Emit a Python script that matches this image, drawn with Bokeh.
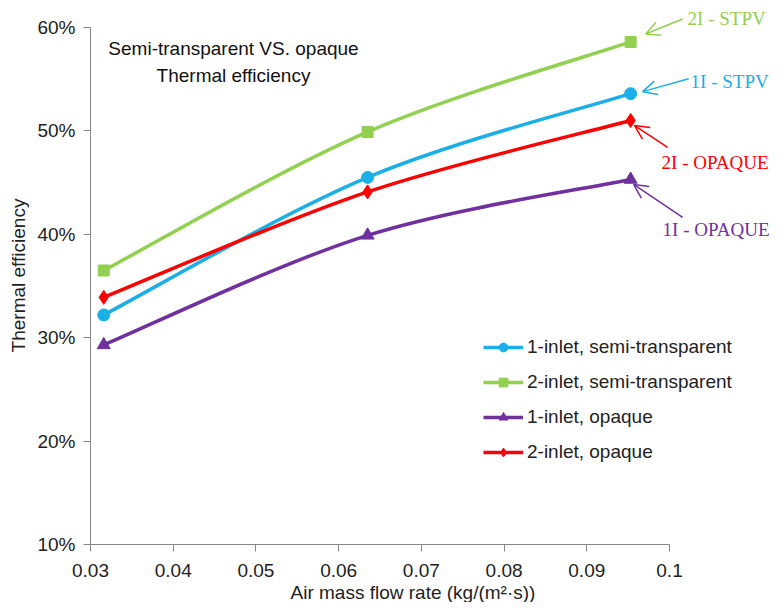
from bokeh.plotting import figure
from bokeh.models import (Range1d, FixedTicker, NumeralTickFormatter, Legend, LegendItem,
                          Label, Arrow, OpenHead, LinearAxis, Title)
from bokeh.embed import file_html
from bokeh.resources import INLINE

# ---------------- data ----------------
flow_rate = [0.0316, 0.0635, 0.0953]
eff_1inlet_semi = [0.322, 0.455, 0.536]
eff_2inlet_semi = [0.365, 0.499, 0.586]
eff_1inlet_opaque = [0.293, 0.399, 0.453]
eff_2inlet_opaque = [0.339, 0.441, 0.510]

series_names = ["1-inlet, semi-transparent", "2-inlet, semi-transparent",
                "1-inlet, opaque", "2-inlet, opaque"]
callout_texts = ["1I - STPV", "2I - STPV", "1I - OPAQUE", "2I - OPAQUE"]
x_ticks = [0.03, 0.04, 0.05, 0.06, 0.07, 0.08, 0.09, 0.1]
y_ticks = [0.1, 0.2, 0.3, 0.4, 0.5, 0.6]

# ---------------- layout ----------------
W, H = 775, 602
BL, BR, BT, BB = 90, 0, 6, 57
X0, X1 = 0.03, 0.1          # axis extent
Y0, Y1 = 0.1, 0.6
PXX = 579 / (X1 - X0)       # px per x unit
PXY = 518 / (Y1 - Y0)       # px per y unit
frame_w = W - BL - BR
frame_h = H - BT - BB
XR_END = X0 + frame_w / PXX
YR_END = Y0 + frame_h / PXY

FONT = "Liberation Sans"
SERIF = "Liberation Serif"
AXIS_COL = "#878787"
TXT = "#222222"

p = figure(width=W, height=H, output_backend="svg", toolbar_location=None,
           x_range=Range1d(X0, XR_END), y_range=Range1d(Y0, YR_END),
           min_border_left=BL, min_border_right=BR, min_border_top=BT, min_border_bottom=BB)
p.outline_line_color = None
p.grid.visible = False
p.background_fill_color = "white"
p.border_fill_color = "white"

for ax in (p.xaxis[0], p.yaxis[0]):
    ax.axis_line_color = AXIS_COL
    ax.major_tick_line_color = AXIS_COL
    ax.minor_tick_line_color = None
    ax.major_tick_in = 0
    ax.major_tick_out = 7
    ax.major_label_text_font = FONT
    ax.major_label_text_font_size = "19px"
    ax.major_label_text_color = TXT

p.xaxis.ticker = FixedTicker(ticks=x_ticks)
p.xaxis.formatter = NumeralTickFormatter(format="0.0[0]")
p.xaxis.bounds = (X0, X1)
p.yaxis.ticker = FixedTicker(ticks=y_ticks)
p.yaxis.formatter = NumeralTickFormatter(format="0%")
p.yaxis.bounds = (Y0, Y1)
p.xaxis.major_label_standoff = 12
p.yaxis.major_label_standoff = 8

# y-axis title (separate label-only axis)
p.add_layout(LinearAxis(ticker=FixedTicker(ticks=[]), axis_label="Thermal efficiency",
                        axis_line_color=None, major_tick_line_color=None,
                        minor_tick_line_color=None, major_tick_out=0, major_tick_in=0,
                        major_label_text_font_size="0px", axis_label_standoff=6,
                        axis_label_text_font=FONT, axis_label_text_font_size="19px",
                        axis_label_text_font_style="normal", axis_label_text_color=TXT),
             "left")

# x-axis title, placed left of the frame centre as in the reference
p.add_layout(Title(text="Air mass flow rate (kg/(m\u00b2\u00b7s))", align="left", offset=200,
                   standoff=0, text_font=FONT, text_font_size="19px",
                   text_font_style="normal", text_color=TXT), "below")


def smooth_segments(xs, ys):
    n = len(xs)
    out = dict(x0=[], y0=[], x1=[], y1=[], cx0=[], cy0=[], cx1=[], cy1=[])
    for i in range(n - 1):
        ip = i - 1 if i > 0 else i
        inx = i + 2 if i + 2 < n else i + 1
        out["x0"].append(xs[i]); out["y0"].append(ys[i])
        out["x1"].append(xs[i + 1]); out["y1"].append(ys[i + 1])
        out["cx0"].append(xs[i] + (xs[i + 1] - xs[ip]) / 6)
        out["cy0"].append(ys[i] + (ys[i + 1] - ys[ip]) / 6)
        out["cx1"].append(xs[i + 1] - (xs[inx] - xs[i]) / 6)
        out["cy1"].append(ys[i + 1] - (ys[inx] - ys[i]) / 6)
    return out


styles = [
    (eff_1inlet_semi, "#1AAFE6", "circle", 12),
    (eff_2inlet_semi, "#92D050", "square", 11),
    (eff_1inlet_opaque, "#7030A0", "triangle", 13),
    (eff_2inlet_opaque, "#FF0000", "diamond", 14),
]

items = []
for (ys, col, mk, sz), name in zip(styles, series_names):
    seg = smooth_segments(flow_rate, ys)
    b = p.bezier(**seg, line_color=col, line_width=3.5)
    s = p.scatter(flow_rate, ys, marker=mk, size=sz, fill_color=col, line_color=col)
    items.append(LegendItem(label=name, renderers=[b, s]))

legend = Legend(items=items, location=(393, 81), border_line_color=None,
                background_fill_alpha=0, glyph_width=40, glyph_height=22,
                label_height=22, spacing=13, label_standoff=4, padding=0, margin=0,
                label_text_font=FONT, label_text_font_size="19px",
                label_text_color=TXT)
p.add_layout(legend, "center")

# ---------------- callouts ----------------
# (series index, tip offset px, start offset px, text offset px) relative to the last point
callouts = [
    (1, (15, -8), (52, -23), (57, -23)),
    (0, (12, -2), (58, -15), (60, -12)),
    (3, (4, 5), (37, 27), (31, 42)),
    (2, (3, 5), (52, 38), (32, 50)),
]
for idx, tip, start, txt in callouts:
    ys, col, _, _ = styles[idx]
    lx, ly = flow_rate[-1], ys[-1]
    arr = Arrow(x_start=lx + start[0] / PXX, y_start=ly - start[1] / PXY,
                x_end=lx + tip[0] / PXX, y_end=ly - tip[1] / PXY,
                line_color=col, line_width=1.5,
                end=OpenHead(size=14, line_color=col, line_width=1.5))
    p.add_layout(arr)
    p.add_layout(Label(x=lx + txt[0] / PXX, y=ly - txt[1] / PXY,
                       text=callout_texts[idx], text_color=col, text_font=SERIF,
                       text_font_size="19px", text_baseline="middle", text_align="left"))

# ---------------- chart title (in-plot) ----------------
title_lines = ["Semi-transparent VS. opaque", "Thermal efficiency"]
for k, t in enumerate(title_lines):
    p.add_layout(Label(x=X0 + 143 / PXX, y=Y1 - (21 + 27 * k) / PXY, text=t,
                       text_font=FONT, text_font_size="19px", text_color="#111111",
                       text_align="center", text_baseline="middle"))

open("out.html", "w").write(file_html(p, INLINE))
